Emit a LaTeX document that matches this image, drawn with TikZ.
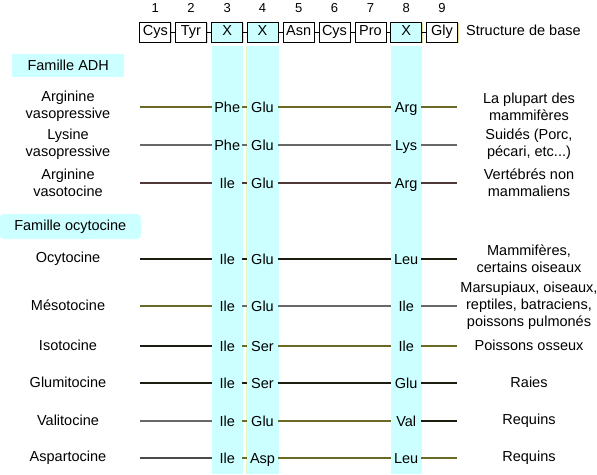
\documentclass[tikz,border=0pt]{standalone}
\usepackage{fontspec}
\setmainfont{Liberation Sans}
\usetikzlibrary{shadows}
\definecolor{colcyan}{HTML}{CCFFFF}
\definecolor{paleline}{HTML}{E4F6C4}
\definecolor{shadowc}{HTML}{E6DC9C}
\definecolor{lolive}{HTML}{6A6A26}
\definecolor{lgray}{HTML}{686868}
\definecolor{lred}{HTML}{4E3838}
\definecolor{lblack}{HTML}{1C1C10}
\definecolor{ldgray}{HTML}{4A4A4A}
\tikzset{
  every node/.style={font=\fontsize{14.5}{17}\selectfont, inner sep=0pt},
  aabox/.style={draw=black, line width=0.9pt, fill=white, minimum width=31pt, minimum height=20pt,
    text height=10.4pt, text depth=3.5pt,
    drop shadow={fill=shadowc, opacity=1, shadow xshift=1pt, shadow yshift=-1pt}},
  xbox/.style={aabox, fill=colcyan},
  chain/.style={draw=black, line width=0.9pt},
  num/.style={font=\fontsize{13}{15}\selectfont},
  colcell/.style={minimum width=30pt, text height=10.4pt, text depth=0pt},
  famille/.style={fill=colcyan},
  rowlab/.style={align=center},
  seg/.style={line width=2pt},
}
\begin{document}
\begin{tikzpicture}[x=1pt,y=-1pt]
\useasboundingbox (0,0) rectangle (597,474);
% cyan columns
\fill[colcyan] (211.7,45.5) rectangle (242.7,474);
\fill[colcyan] (246,45.5) rectangle (278.7,474);
\fill[colcyan] (390.5,45.5) rectangle (422,474);
\draw[paleline, line width=1pt] (246.5,45.5) -- (246.5,474);

% header numbers
\foreach \i/\x in {1/155.3,2/191,3/227.2,4/262.5,5/298.7,6/334.5,7/370.5,8/406.2,9/442}
  \node[num] (n\i) at (\x,8) {\i};

% structure boxes
\node[aabox] (b1) at (155.3,32.3) {Cys};
\node[aabox] (b2) at (191,32.3) {Tyr};
\node[xbox]  (b3) at (227.2,32.3) {X};
\node[xbox]  (b4) at (262.5,32.3) {X};
\node[aabox] (b5) at (298.7,32.3) {Asn};
\node[aabox] (b6) at (334.5,32.3) {Cys};
\node[aabox] (b7) at (370.5,32.3) {Pro};
\node[xbox]  (b8) at (406.2,32.3) {X};
\node[aabox] (b9) at (442,32.3) {Gly};
\foreach \a/\b in {b1/b2,b2/b3,b3/b4,b4/b5,b5/b6,b6/b7,b7/b8,b8/b9}
  \draw[chain] (\a.east) -- (\b.west);
\node[anchor=west, text height=10.4pt, text depth=3.5pt] (sb) at (466,32.3) {Structure de base};

% family headers
\node[famille, minimum width=111.7pt, minimum height=23.3pt] (fadh) at (68.2,65.7) {Famille ADH};
\node[famille, rounded corners=4pt, minimum width=141pt, minimum height=25pt] (focy) at (70.3,226.5) {Famille ocytocine};

% rows: name / y / left label / c3 / c4 / c8 / right label / colours
\foreach \r/\y/\lab/\pa/\pb/\pc/\rl/\ca/\cb/\cc/\cd in {
  1/107/{Arginine\\vasopressive}/Phe/Glu/Arg/{La plupart des\\mammifères}/lolive/lolive/lolive/lolive,
  2/145/{Lysine\\vasopressive}/Phe/Glu/Lys/{Suidés (Porc,\\pécari, etc...)}/lgray/lgray/lgray/lgray,
  3/183/{Arginine\\vasotocine}/Ile/Glu/Arg/{Vertébrés non\\mammaliens}/lred/lred/lred/lred,
  4/259/{Ocytocine}/Ile/Glu/Leu/{Mammifères,\\certains oiseaux}/lblack/lblack/lblack/lblack,
  5/306/{Mésotocine}/Ile/Glu/Ile/{Marsupiaux, oiseaux,\\reptiles, batraciens,\\poissons pulmonés}/lolive/lgray/lgray/lgray,
  6/346/{Isotocine}/Ile/Ser/Ile/{Poissons osseux}/lblack/lolive/lolive/lolive,
  7/383/{Glumitocine}/Ile/Ser/Glu/{Raies}/lblack/lblack/lblack/lblack,
  8/421/{Valitocine}/Ile/Glu/Val/{Requins}/lgray/lolive/lolive/lblack,
  9/458/{Aspartocine}/Ile/Asp/Leu/{Requins}/ldgray/lolive/lolive/lolive}
{
  \node[rowlab] (lab\r) at (68,\y-0.3) {\lab};
  \node[rowlab] (rl\r) at (529,\y-0.6) {\rl};
  \coordinate (L\r) at (140,\y);
  \coordinate (R\r) at (457,\y);
  \node[colcell] (c3\r) at (227.2,\y+0.5) {\pa};
  \node[colcell] (c4\r) at (262.5,\y+0.5) {\pb};
  \node[colcell] (c8\r) at (406.2,\y+0.5) {\pc};
  \draw[seg, draw=\ca] (L\r) -- (L\r -| c3\r.west);
  \draw[seg, draw=\cb] (c3\r.east |- L\r) -- (L\r -| c4\r.west);
  \draw[seg, draw=\cc] (c4\r.east |- L\r) -- (L\r -| c8\r.west);
  \draw[seg, draw=\cd] (c8\r.east |- L\r) -- (R\r);
}
\end{tikzpicture}
\end{document}
